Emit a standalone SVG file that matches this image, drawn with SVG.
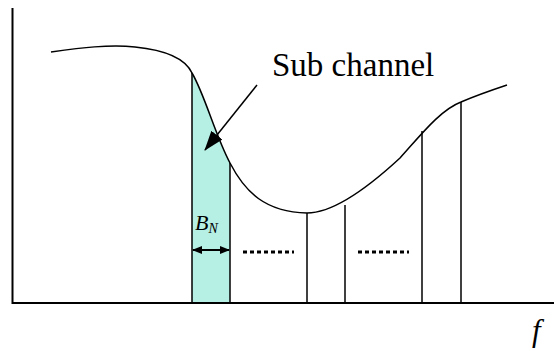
<svg xmlns="http://www.w3.org/2000/svg" width="554" height="351" viewBox="0 0 554 351">
<defs>
<marker id="ah" markerWidth="10" markerHeight="8" refX="9" refY="4" orient="auto" markerUnits="userSpaceOnUse"><path d="M0,0 L10,4 L0,8 Z" fill="#000"/></marker>
<marker id="ahb" markerWidth="20" markerHeight="14" refX="19" refY="7" orient="auto" markerUnits="userSpaceOnUse"><path d="M0,0 L20,7 L0,14 Z" fill="#000"/></marker>
</defs>
<g id="subchannel">
<path d="M192,303 L192,73 C205,95 215,135 230,163 L230,303 Z" fill="#b6efe4" stroke="none"/>
</g>
<g id="axes" stroke="#000" stroke-width="2" fill="none">
<path d="M12.5,8 L12.5,303 L554,303"/>
</g>
<g id="curve" stroke="#000" stroke-width="1.5" fill="none">
<path d="M51,52 C80,48 110,44 135,47 C165,50 185,58 192,73 C205,95 215,135 230,163 C245,192 265,212 307,213 C330,213 360,195 400,158 C420,136 440,110 461,102 C475,96 495,89 507,85"/>
</g>
<g id="bins" stroke="#000" stroke-width="1.5">
<line x1="192" y1="73" x2="192" y2="303"/>
<line x1="230" y1="163" x2="230" y2="303"/>
<line x1="307" y1="213" x2="307" y2="303"/>
<line x1="345" y1="205" x2="345" y2="303"/>
<line x1="422" y1="131" x2="422" y2="303"/>
<line x1="461" y1="102" x2="461" y2="303"/>
</g>
<g id="dots" stroke="#000" stroke-width="3" stroke-dasharray="4 3">
<line x1="243" y1="252" x2="294" y2="252"/>
<line x1="358" y1="252" x2="409" y2="252"/>
</g>
<g id="connectors" stroke="#000">
<line x1="257" y1="85" x2="205" y2="150" stroke-width="1.5" marker-end="url(#ahb)"/>
<line x1="211" y1="250" x2="193" y2="250" stroke-width="2" marker-end="url(#ah)"/>
<line x1="211" y1="250" x2="229" y2="250" stroke-width="2" marker-end="url(#ah)"/>
</g>
<g id="labels" fill="#000">
<text x="272" y="76" font-size="33" style="font-family:'Liberation Serif','Times New Roman',serif !important">Sub channel</text>
<text x="195" y="230" font-size="22" font-style="italic" style="font-family:'Liberation Serif','Times New Roman',serif !important">B<tspan font-size="14" dy="3" style="font-family:'Liberation Serif','Times New Roman',serif !important">N</tspan></text>
<text x="532" y="341" font-size="31" font-style="italic" style="font-family:'Liberation Serif','Times New Roman',serif !important">f</text>
</g>
</svg>
